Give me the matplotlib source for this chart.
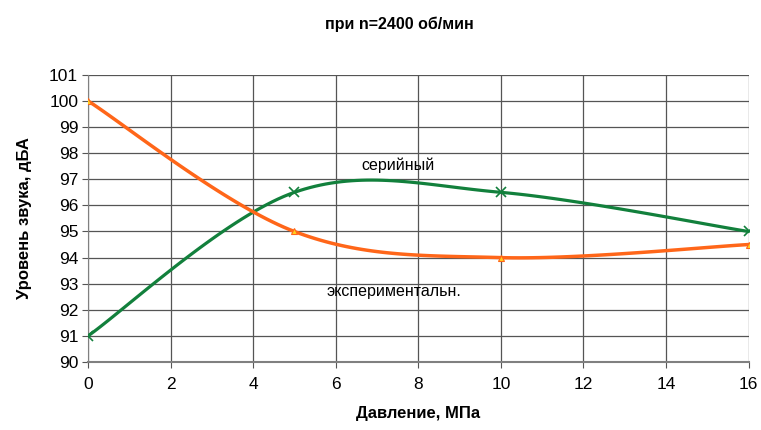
import matplotlib
matplotlib.use("Agg")
import matplotlib.pyplot as plt
import numpy as np

plt.rcParams['font.family'] = ['Liberation Sans', 'DejaVu Sans']

pressure = [0, 5, 10, 16]
serial = [91, 96.5, 96.5, 95]          # серийный
experimental = [100, 95, 94, 94.5]     # экспериментальн.

x_ticks = list(range(0, 17, 2))
y_ticks = list(range(90, 102))


def smooth(xs, ys, n=40):
    # сглаженная линия как в Excel (кубические Безье)
    p = np.column_stack([xs, ys]).astype(float)
    p = np.vstack([p[0], p, p[-1]])
    out = []
    t = np.linspace(0, 1, n)[:, None]
    for i in range(1, len(p) - 2):
        p0, p3 = p[i], p[i + 1]
        c1 = p0 + (p[i + 1] - p[i - 1]) / 6
        c2 = p3 - (p[i + 2] - p[i]) / 6
        seg = (1 - t)**3 * p0 + 3 * (1 - t)**2 * t * c1 + 3 * (1 - t) * t**2 * c2 + t**3 * p3
        out.append(seg)
    out = np.vstack(out)
    return out[:, 0], out[:, 1]


fig = plt.figure(figsize=(7.61, 4.30), dpi=100)
ax = fig.add_axes([0.1156, 0.158, 0.868, 0.668])

green = "#12803c"
orange = "#ff6619"

sx, sy = smooth(pressure, serial)
ax.plot(sx, sy, color=green, lw=2.3, zorder=3)
ax.plot(pressure, serial, ls="none", marker="x", ms=7, mew=1.2, color=green, zorder=4)

ex, ey = smooth(pressure, experimental)
ax.plot(ex, ey, color=orange, lw=2.5, zorder=3)
ax.plot(pressure, experimental, ls="none", marker="^", ms=4.5, mfc="#ffd21e",
        mec=orange, mew=0.8, zorder=4)

ax.set_xlim(0, 16)
ax.set_ylim(90, 101)
ax.set_xticks(x_ticks)
ax.set_yticks(y_ticks)
ax.grid(True, color="#555555", lw=0.9)
ax.set_axisbelow(True)
for s in ["top", "right"]:
    ax.spines[s].set_visible(False)
ax.spines["left"].set_color("#808080")
ax.spines["bottom"].set_color("#808080")
ax.spines["bottom"].set_linewidth(1.5)
ax.tick_params(axis="both", direction="out", length=4, color="#555555",
               labelsize=12.5, colors="black")
ax.tick_params(axis="x", pad=7)
ax.tick_params(axis="y", pad=3)

ax.set_xlabel("Давление, МПа", fontsize=12, fontweight="bold", labelpad=10)
ax.set_ylabel("Уровень звука, дБА", fontsize=12, fontweight="bold", labelpad=12)
fig.text(0.525, 0.943, "при n=2400 об/мин", ha="center", va="center",
         fontsize=11.5, fontweight="bold")

ax.text(7.5, 97.55, "серийный", ha="center", va="center", fontsize=11.5)
ax.text(7.4, 92.7, "экспериментальн.", ha="center", va="center", fontsize=11.5)

fig.savefig("out.png", dpi=100)
